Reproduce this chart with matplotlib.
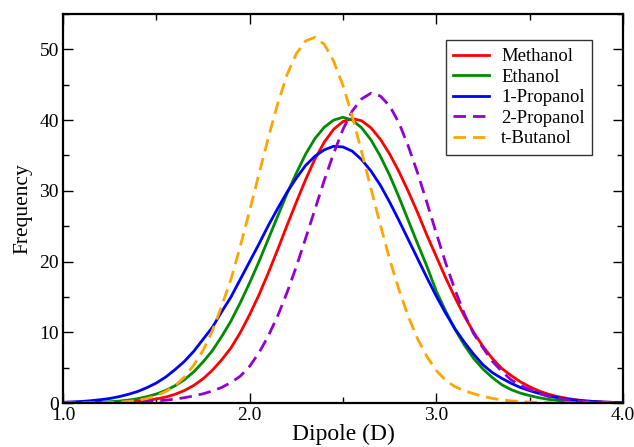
import matplotlib
matplotlib.use("Agg")
import matplotlib.pyplot as plt
import numpy as np

plt.rcParams["font.family"] = ["Liberation Serif", "DejaVu Serif"]

# dipole grid (D), 0.05 steps
dipole = np.round(np.arange(1.0, 4.0001, 0.05), 2)

methanol = [0.0, 0.01, 0.01, 0.02, 0.035, 0.06, 0.10, 0.16, 0.25, 0.37,
            0.57, 0.84, 1.23, 1.76, 2.48, 3.42, 4.63, 6.1, 7.8, 9.97,
            12.5, 15.3, 18.4, 21.7, 25.1, 28.4, 31.6, 34.5, 36.9, 38.7,
            39.8, 40.2, 39.9, 38.9, 37.3, 35.2, 32.7, 29.9, 26.9, 23.7,
            20.7, 17.7, 14.9, 12.3, 10.0, 8.0, 6.3, 4.9, 3.9, 3.0,
            2.3, 1.7, 1.25, 0.9, 0.65, 0.45, 0.3, 0.2, 0.13, 0.08, 0.05]

ethanol = [0.016, 0.03, 0.05, 0.07, 0.12, 0.18, 0.27, 0.41, 0.62, 0.90,
           1.27, 1.77, 2.44, 3.29, 4.4, 5.8, 7.4, 9.4, 11.6, 14.2,
           17.0, 20.0, 23.2, 26.4, 29.6, 32.5, 35.2, 37.4, 39.0, 40.0,
           40.4, 40.0, 38.9, 37.2, 34.9, 32.2, 29.1, 25.8, 22.5, 19.3,
           15.8, 13.0, 10.4, 8.2, 6.3, 4.8, 3.6, 2.6, 1.9, 1.4,
           1.05, 0.75, 0.52, 0.36, 0.25, 0.17, 0.11, 0.07, 0.04, 0.02, 0.01]

propanol1 = [0.1, 0.16, 0.22, 0.33, 0.47, 0.64, 0.9, 1.23, 1.63, 2.18,
             2.83, 3.67, 4.72, 5.88, 7.3, 9.0, 10.7, 12.9, 15.0, 17.5,
             20.0, 22.5, 25.1, 27.5, 29.8, 31.8, 33.6, 34.9, 35.8, 36.3,
             36.2, 35.6, 34.4, 32.8, 30.8, 28.4, 25.8, 23.1, 20.4, 17.7,
             15.1, 12.7, 10.5, 8.6, 6.9, 5.4, 4.3, 3.5, 2.8, 2.2,
             1.75, 1.35, 1.0, 0.75, 0.55, 0.4, 0.28, 0.2, 0.13, 0.09, 0.06]

propanol2 = [0.0, 0.01, 0.02, 0.03, 0.05, 0.07, 0.1, 0.14, 0.2, 0.26,
             0.3, 0.4, 0.55, 0.75, 1.0, 1.3, 1.7, 2.2, 2.9, 3.8,
             5.2, 7.1, 9.5, 12.3, 15.6, 19.3, 23.3, 27.4, 31.5, 35.3,
             38.7, 41.3, 43.0, 43.8, 43.4, 42.0, 39.6, 36.3, 32.5, 28.3,
             24.0, 19.8, 16.0, 12.6, 9.8, 7.8, 5.9, 4.5, 3.3, 2.5,
             1.9, 1.35, 0.95, 0.65, 0.45, 0.3, 0.2, 0.13, 0.08, 0.05, 0.03]

tbutanol = [0.0, 0.0, 0.01, 0.02, 0.04, 0.07, 0.12, 0.22, 0.38, 0.63,
            1.02, 1.62, 2.45, 3.67, 5.34, 7.43, 10.2, 13.7, 17.5, 22.2,
            27.2, 32.4, 37.5, 42.3, 46.4, 49.4, 51.2, 51.7, 50.7, 48.3,
            44.9, 40.5, 35.5, 30.3, 25.2, 20.3, 16.0, 12.2, 9.05, 6.55,
            4.6, 3.2, 2.3, 1.75, 1.3, 0.95, 0.65, 0.45, 0.3, 0.2,
            0.13, 0.08, 0.05, 0.03, 0.02, 0.01, 0.0, 0.0, 0.0, 0.0, 0.0]

series = [
    ("Methanol", methanol, "#FF0000", "-"),
    ("Ethanol", ethanol, "#008B00", "-"),
    ("1-Propanol", propanol1, "#0000FF", "-"),
    ("2-Propanol", propanol2, "#9400D3", (0, (4.5, 2.5))),
    ("t-Butanol", tbutanol, "#FFA500", (0, (4.5, 2.5))),
]

fig = plt.figure(figsize=(6.34, 4.47), dpi=100)
ax = fig.add_axes([0.0994, 0.0984, 0.8832, 0.8703])

for name, vals, col, ls in series:
    ax.plot(dipole, vals, color=col, ls=ls, lw=2.0, label=name)

ax.set_xlim(1.0, 4.0)
ax.set_ylim(0, 55)
ax.set_xticks([1.0, 2.0, 3.0, 4.0])
ax.set_xticklabels(["1.0", "2.0", "3.0", "4.0"])
ax.set_xticks([1.5, 2.5, 3.5], minor=True)
ax.set_yticks([0, 10, 20, 30, 40, 50])
ax.set_yticks([5, 15, 25, 35, 45, 55], minor=True)
ax.tick_params(which="both", direction="in", top=True, right=True,
               labelsize=14, width=1.0, pad=3)
ax.tick_params(which="major", length=7)
ax.tick_params(which="minor", length=4)
for sp in ax.spines.values():
    sp.set_linewidth(1.6)

ax.set_xlabel("Dipole (D)", fontsize=17, labelpad=0)
ax.set_ylabel("Frequency", fontsize=15.5, labelpad=5)

leg = ax.legend(loc="upper right", bbox_to_anchor=(0.945, 0.932),
                fontsize=13.5, frameon=True, fancybox=False, handlelength=1.9,
                borderpad=0.4, labelspacing=0.18, handletextpad=0.65,
                borderaxespad=0)
leg.get_frame().set_edgecolor("black")
leg.get_frame().set_linewidth(1.0)

fig.savefig("out.png", dpi=100)
